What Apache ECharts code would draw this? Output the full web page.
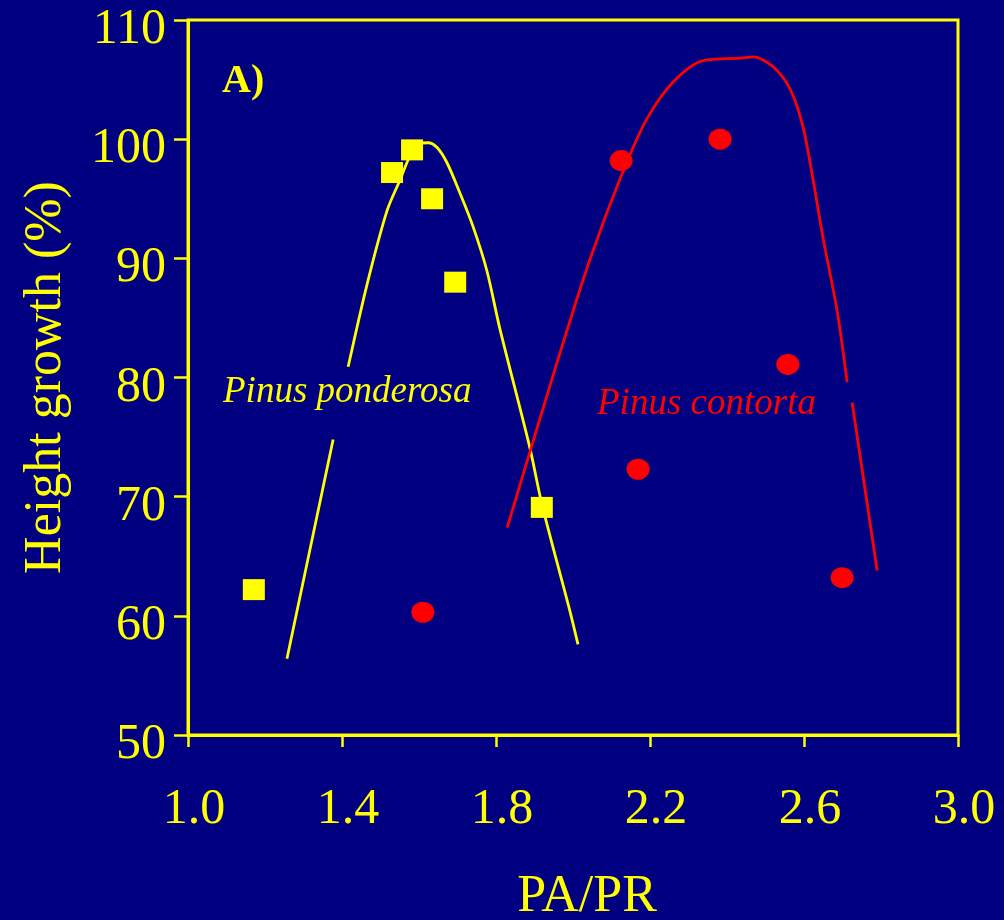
<!DOCTYPE html>
<html>
<head>
<meta charset="utf-8">
<script src="https://cdn.jsdelivr.net/npm/echarts@6/dist/echarts.min.js"></script>
<style>
    html, body { margin: 0; padding: 0; background: #000080; }
    #chart { width: 1004px; height: 920px; }
</style>
</head>
<body>
<div id="chart"></div>
<script>
var ponderosaPts = [[1.171, 62.2], [1.530, 97.2], [1.582, 99.1], [1.634, 95.0], [1.694, 88.0], [1.919, 69.1]];
var contortaPts = [[1.610, 60.3], [2.125, 98.2], [2.169, 72.3], [2.382, 100.0], [2.558, 81.1], [2.699, 63.2]];

// fitted curves, split where the species labels cut them
var ponderosaLow = [[1.257, 56.4], [1.377, 74.8]];
var ponderosaHigh = [[1.416, 80.9], [1.465, 87.8], [1.517, 94.0], [1.551, 96.6], [1.577, 98.6], [1.603, 99.6],
    [1.623, 99.7], [1.647, 99.3], [1.673, 98.0], [1.706, 95.5], [1.740, 92.7], [1.776, 89.0], [1.810, 84.1],
    [1.888, 74.1], [1.919, 69.4], [1.992, 60.4], [2.013, 57.6]];
var contortaHigh = [[1.829, 67.4], [1.958, 81.2], [2.044, 89.9], [2.130, 97.3], [2.192, 101.7], [2.260, 104.8],
    [2.338, 106.6], [2.434, 106.8], [2.468, 106.9], [2.519, 106.1], [2.564, 104.2], [2.597, 101.1],
    [2.623, 96.7], [2.649, 91.8], [2.686, 85.6], [2.712, 79.6]];
var contortaLow = [[2.725, 77.9], [2.790, 63.8]];

var YELLOW = '#ffff00';
var RED = '#ff0000';
var FONT = '"Liberation Serif", "Times New Roman", serif';

function curve(data, color) {
    return {
        type: 'line', data: data, smooth: 0.3, symbol: 'none', silent: true,
        lineStyle: {color: color, width: 2.8}
    };
}

var myChart = echarts.init(document.getElementById('chart'));
var option = {
    backgroundColor: '#000080',
    animation: false,
    grid: {left: 188, right: 46, top: 20, bottom: 185, show: true, borderColor: YELLOW, borderWidth: 3,
        containLabel: false, outerBoundsMode: 'none'},
    xAxis: {
        type: 'value', min: 1.0, max: 3.0, interval: 0.4,
        name: 'PA/PR', nameLocation: 'middle', nameGap: 136,
        nameTextStyle: {color: YELLOW, fontFamily: FONT, fontSize: 52, padding: [0, 0, 0, 28]},
        axisLine: {lineStyle: {color: YELLOW, width: 3}},
        axisTick: {show: true, length: 12, lineStyle: {color: YELLOW, width: 2.5}},
        axisLabel: {color: YELLOW, fontFamily: FONT, fontSize: 50, margin: 50, padding: [0, 0, 0, 12],
            formatter: function (v) { return v.toFixed(1); }},
        splitLine: {show: false}
    },
    yAxis: {
        type: 'value', min: 50, max: 110, interval: 10,
        name: 'Height growth (%)', nameLocation: 'middle', nameGap: 116,
        nameTextStyle: {color: YELLOW, fontFamily: FONT, fontSize: 52},
        axisLine: {lineStyle: {color: YELLOW, width: 3}},
        axisTick: {show: true, length: 14, lineStyle: {color: YELLOW, width: 2.5}},
        axisLabel: {color: YELLOW, fontFamily: FONT, fontSize: 50, margin: 22,
            verticalAlign: 'top', lineHeight: 20},
        splitLine: {show: false}
    },
    graphic: [
        {type: 'text', left: 222, top: 62, style: {text: 'A)', fill: YELLOW, font: 'bold 40px ' + FONT}},
        {type: 'text', left: 223, top: 374, style: {text: 'Pinus ponderosa', fill: YELLOW, font: 'italic 37px ' + FONT}},
        {type: 'text', left: 597, top: 386, style: {text: 'Pinus contorta', fill: RED, font: 'italic 37px ' + FONT}}
    ],
    series: [
        curve(ponderosaLow, YELLOW),
        curve(ponderosaHigh, YELLOW),
        curve(contortaHigh, RED),
        curve(contortaLow, RED),
        {type: 'scatter', data: ponderosaPts, symbol: 'rect', symbolSize: [22, 21],
            itemStyle: {color: YELLOW, opacity: 1}, z: 3},
        {type: 'scatter', data: contortaPts, symbol: 'circle', symbolSize: [23, 21],
            itemStyle: {color: RED, opacity: 1}, z: 3}
    ]
};
myChart.setOption(option);
</script>
</body>
</html>
